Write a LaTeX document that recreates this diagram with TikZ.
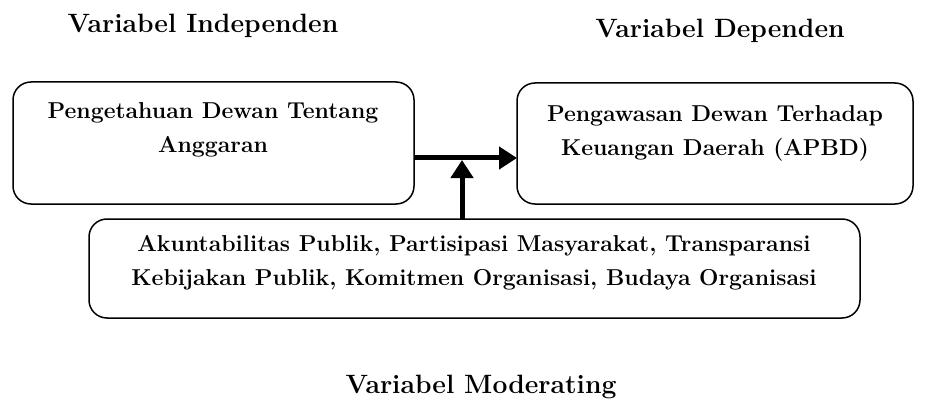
\documentclass[tikz,border=0pt]{standalone}
\usetikzlibrary{arrows.meta}
\begin{document}
\begin{tikzpicture}[x=1pt,y=-1pt,
  box/.style={draw,line width=1.5pt,rounded corners=18pt},
  lbl/.style={font=\bfseries\fontsize{23}{34}\selectfont,align=center,inner sep=0pt},
  ttl/.style={font=\bfseries\fontsize{26.5}{30}\selectfont,inner sep=0pt,anchor=base},
  arr/.style={line width=5pt,-{Triangle[length=18pt,width=22pt]}}]
\useasboundingbox (0,0) rectangle (929,401);
\draw[box] (13,82) rectangle (414,204);
\draw[box] (517,83) rectangle (913,204);
\draw[box] (89,219) rectangle (860,318);
\node[ttl] (t1) at (203,33) {Variabel Independen};
\node[ttl] (t2) at (720,38) {Variabel Dependen};
\node[ttl] (t3) at (481,393) {Variabel Moderating};
\node[lbl] (a) at (213,130) {Pengetahuan Dewan Tentang\\Anggaran};
\node[lbl] (b) at (715,133) {Pengawasan Dewan Terhadap\\Keuangan Daerah (APBD)};
\node[lbl] (c) at (474,263) {Akuntabilitas Publik, Partisipasi Masyarakat, Transparansi\\Kebijakan Publik, Komitmen Organisasi, Budaya Organisasi};
\coordinate (l) at (414,158);
\coordinate (r) at (517,158);
\coordinate (m) at (462,160);
\coordinate (mb) at (462,219);
\draw[arr] (l) -- (r);
\draw[arr] (mb) -- (m);
\end{tikzpicture}
\end{document}
